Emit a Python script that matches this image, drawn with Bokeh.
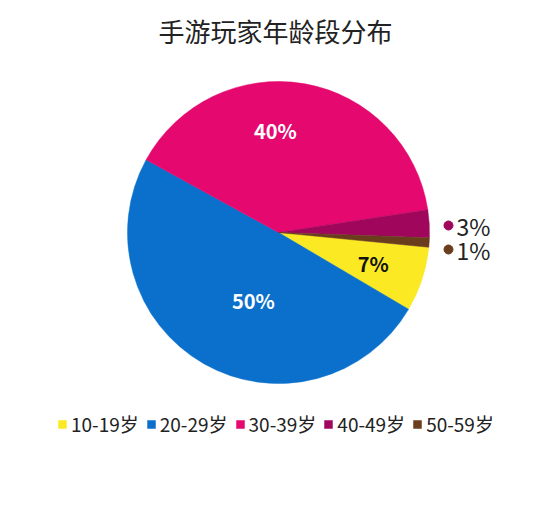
import math
from bokeh.plotting import figure
from bokeh.models import ColumnDataSource, Range1d, Legend, LegendItem
from bokeh.core.properties import value
from bokeh.embed import file_html
from bokeh.resources import INLINE

# ---- data ----
title_text = "手游玩家年龄段分布"
categories = ["10-19岁", "20-29岁", "30-39岁", "40-49岁", "50-59岁"]
shares = [7, 50, 40, 3, 1]
share_labels = ["7%", "50%", "40%", "3%", "1%"]
colors = ["#fbe924", "#0b70cc", "#e5086f", "#a0065c", "#6a3d1c"]

# ---- layout ----
W, H = 534, 516
cx, cy, R = 278, H - 232, 151
start_deg = -5.6
FONT = "Noto Sans CJK SC"

p = figure(width=W, height=H, output_backend="svg", toolbar_location=None,
           x_range=Range1d(0, W), y_range=Range1d(0, H), min_border=0)
p.axis.visible = False
p.grid.visible = False
p.outline_line_color = None
p.background_fill_color = "white"

total = sum(shares)
starts, ends, mids = [], [], []
a = math.radians(start_deg)
for s in shares:
    span = s / total * 2 * math.pi
    b = a - span
    starts.append(b)
    ends.append(a)
    mids.append((a + b) / 2)
    a = b

src = ColumnDataSource(dict(x=[cx] * len(shares), y=[cy] * len(shares),
                            start=starts, end=ends, color=colors, cat=categories))
r = p.wedge(x="x", y="y", radius=R, start_angle="start", end_angle="end",
            fill_color="color", line_color="color", line_width=0.5, source=src)

# inside labels (first three slices)
inner_r = [0.66, 0.48, 0.675]
angle_adj = [0.0, 0.164, 0.206]
txt_col = ["#111111", "white", "white"]
lx, ly = [], []
for i in range(3):
    ang = mids[i] + angle_adj[i]
    lx.append(cx + inner_r[i] * R * math.cos(ang))
    ly.append(cy + inner_r[i] * R * math.sin(ang))
p.text(x=lx, y=ly, text=share_labels[:3], text_color=txt_col,
       text_font=value(FONT), text_font_size="20px", text_font_style="bold",
       text_align="center", text_baseline="middle")

# outside labels for small slices
ox = [448, 448]
oy = [H - 225, H - 249]
p.scatter(x=ox, y=oy, size=9, marker="circle", fill_color=colors[3:], line_color=colors[3:])
p.text(x=[x + 8 for x in ox], y=oy, text=share_labels[3:], text_color="#222222",
       text_font=value(FONT), text_font_size="23px",
       text_align="left", text_baseline="middle")

# title
p.text(x=[275], y=[H - 30], text=[title_text], text_color="#222222",
       text_font=value(FONT), text_font_size="26px",
       text_align="center", text_baseline="middle")

# legend
items = [LegendItem(label=categories[i], renderers=[r], index=i) for i in range(len(categories))]
leg = Legend(items=items, orientation="horizontal", location=(57, 79),
             glyph_width=10, glyph_height=10, label_standoff=4, spacing=7,
             padding=0, margin=0, border_line_color=None, background_fill_alpha=0,
             label_text_font=FONT, label_text_font_size="19px", label_text_color="#222222",
             label_height=20)
p.add_layout(leg, "center")

open("out.html", "w").write(file_html(p, INLINE))
